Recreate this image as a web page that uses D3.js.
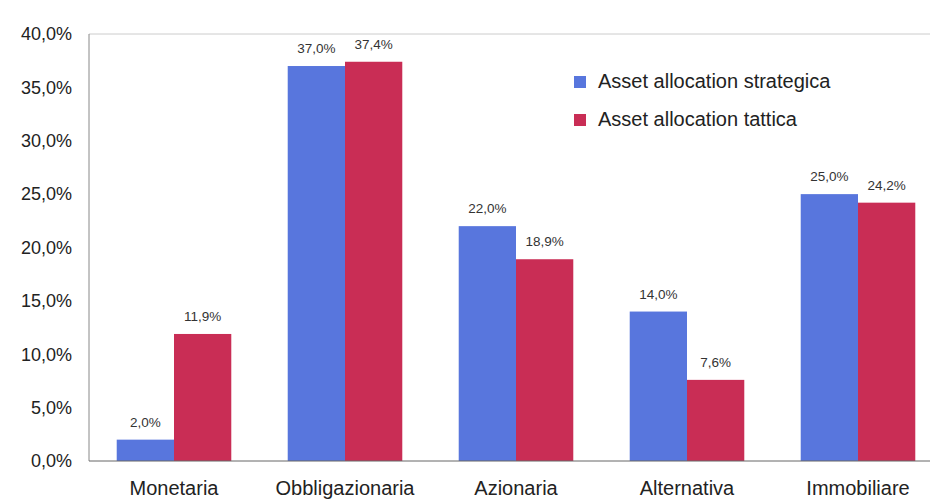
<!DOCTYPE html>
<html><head><meta charset="utf-8">
<script src="https://cdn.jsdelivr.net/npm/d3@7"></script>
<style>body{margin:0;background:#fff;}svg{display:block;font-family:"Liberation Sans",Arial,sans-serif;}</style>
</head><body>
<svg id="c" width="930" height="500"></svg>
<script>
const categories = ["Monetaria","Obbligazionaria","Azionaria","Alternativa","Immobiliare"];
const seriesNames = ["Asset allocation strategica","Asset allocation tattica"];
const strategica = [2.0, 37.0, 22.0, 14.0, 25.0];
const tattica = [11.9, 37.4, 18.9, 7.6, 24.2];
const yTicks = [0,5,10,15,20,25,30,35,40];
const colors = ["#5876dd","#c92d55"];

const svg = d3.select("#c");
const fmt = v => v.toFixed(1).replace(".", ",") + "%";
const x = d3.scaleBand().domain(categories).range([88.5, 943.5]).paddingInner(0.33).paddingOuter(0.165);
const xs = d3.scaleBand().domain([0,1]).range([0, x.bandwidth()]);
const y = d3.scaleLinear().domain([0,40]).range([461, 34]);

// frame
svg.append("line").attr("x1",89).attr("x2",930).attr("y1",y(40)).attr("y2",y(40)).attr("stroke","#ccc");
svg.append("line").attr("x1",89).attr("x2",89).attr("y1",y(40)).attr("y2",y(0)).attr("stroke","#888");

const yAxis = d3.axisLeft(y).tickValues(yTicks).tickFormat(fmt).tickSize(0).tickPadding(17);
const gy = svg.append("g").attr("transform","translate(89,0)").call(yAxis);
gy.select(".domain").remove();
gy.selectAll("text").attr("font-size",18).attr("fill","#222");

const data = [strategica, tattica];
data.forEach((vals, si) => {
  svg.append("g").selectAll("rect").data(vals).join("rect")
    .attr("x",(d,i)=>x(categories[i]) + xs(si))
    .attr("width", xs.bandwidth())
    .attr("y", d=>y(d))
    .attr("height", d=>y(0)-y(d))
    .attr("fill", colors[si]);
  svg.append("g").selectAll("text").data(vals).join("text")
    .attr("x",(d,i)=>x(categories[i]) + xs(si) + xs.bandwidth()/2)
    .attr("y", d=>y(d)-13)
    .attr("text-anchor","middle")
    .attr("font-size",13.5)
    .attr("fill","#333")
    .text(d=>fmt(d));
});

svg.append("line").attr("x1",89).attr("x2",930).attr("y1",y(0)).attr("y2",y(0)).attr("stroke","#666");

const xAxis = d3.axisBottom(x).tickSize(0);
const gx = svg.append("g").attr("transform",`translate(0,${y(0)})`).call(xAxis);
gx.select(".domain").remove();
gx.selectAll("text").attr("y",34).attr("dy",0).attr("font-size",20).attr("fill","#222");

// legend
const lg = svg.append("g");
seriesNames.forEach((n, i) => {
  const base = 88 + i*38;
  lg.append("rect").attr("x",574).attr("y",base-12).attr("width",12).attr("height",12).attr("fill",colors[i]);
  lg.append("text").attr("x",598).attr("y",base).attr("font-size",20).attr("fill","#222").text(n);
});
</script>
</body></html>
